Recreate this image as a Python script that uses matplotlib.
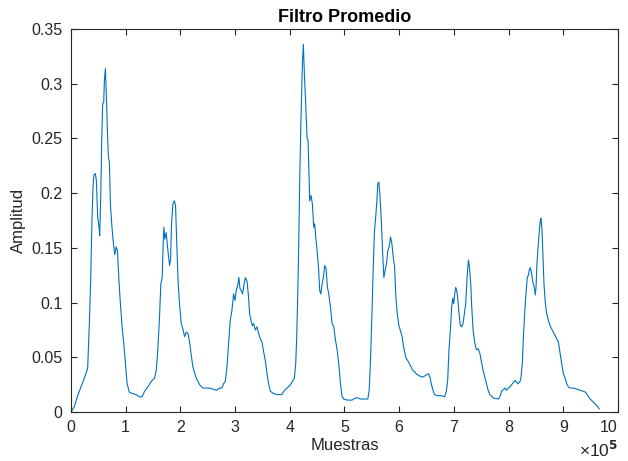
import matplotlib.pyplot as plt
from matplotlib.ticker import FuncFormatter

# muestras en unidades de 1e5, amplitud
muestras = [
    0.000, 0.061, 0.122, 0.183, 0.244, 0.305, 0.336, 0.360, 0.385, 0.403,
    0.421, 0.446, 0.464, 0.489, 0.513, 0.525, 0.544, 0.562, 0.580, 0.599,
    0.611, 0.629, 0.648, 0.666, 0.684, 0.703, 0.721, 0.745, 0.770, 0.800,
    0.825, 0.849, 0.874, 0.904, 0.935, 0.965, 0.996, 1.026, 1.069, 1.130,
    1.191, 1.252, 1.301, 1.344, 1.405, 1.466, 1.527, 1.558, 1.588, 1.619,
    1.643, 1.668, 1.686, 1.698, 1.717, 1.741, 1.772, 1.802, 1.820, 1.839,
    1.863, 1.888, 1.912, 1.936, 1.961, 1.985, 2.016, 2.046, 2.077, 2.108,
    2.138, 2.169, 2.199, 2.230, 2.291, 2.352, 2.413, 2.474, 2.535, 2.596,
    2.657, 2.718, 2.759, 2.790, 2.821, 2.851, 2.882, 2.912, 2.943, 2.973,
    2.998, 3.022, 3.053, 3.071, 3.089, 3.114, 3.138, 3.162, 3.187, 3.217,
    3.242, 3.266, 3.291, 3.315, 3.339, 3.370, 3.400, 3.431, 3.461, 3.492,
    3.523, 3.553, 3.584, 3.614, 3.645, 3.706, 3.767, 3.858, 3.889, 3.950,
    4.011, 4.084, 4.109, 4.127, 4.145, 4.164, 4.182, 4.200, 4.219, 4.231,
    4.249, 4.267, 4.291, 4.316, 4.334, 4.352, 4.365, 4.389, 4.414, 4.438,
    4.456, 4.475, 4.499, 4.524, 4.548, 4.567, 4.591, 4.615, 4.640, 4.664,
    4.689, 4.713, 4.744, 4.774, 4.805, 4.835, 4.866, 4.896, 4.927, 4.957,
    4.988, 5.049, 5.140, 5.201, 5.244, 5.293, 5.366, 5.427, 5.452, 5.476,
    5.501, 5.525, 5.549, 5.574, 5.592, 5.610, 5.629, 5.647, 5.671, 5.696,
    5.720, 5.745, 5.769, 5.794, 5.818, 5.842, 5.867, 5.891, 5.916, 5.940,
    5.965, 5.995, 6.031, 6.055, 6.080, 6.104, 6.128, 6.159, 6.190, 6.220,
    6.251, 6.281, 6.312, 6.373, 6.434, 6.495, 6.538, 6.563, 6.587, 6.618,
    6.648, 6.709, 6.771, 6.832, 6.862, 6.887, 6.911, 6.936, 6.960, 6.979,
    6.997, 7.015, 7.034, 7.052, 7.070, 7.095, 7.119, 7.144, 7.168, 7.193,
    7.217, 7.242, 7.266, 7.284, 7.309, 7.327, 7.352, 7.382, 7.413, 7.443,
    7.474, 7.505, 7.535, 7.566, 7.596, 7.627, 7.657, 7.719, 7.810, 7.841,
    7.872, 7.933, 7.963, 7.994, 8.024, 8.055, 8.086, 8.116, 8.147, 8.177,
    8.208, 8.226, 8.251, 8.269, 8.294, 8.318, 8.343, 8.361, 8.379, 8.398,
    8.416, 8.434, 8.453, 8.471, 8.489, 8.502, 8.520, 8.544, 8.563, 8.581,
    8.593, 8.612, 8.630, 8.648, 8.673, 8.697, 8.728, 8.758, 8.789, 8.820,
    8.850, 8.881, 8.911, 8.942, 8.972, 9.003, 9.034, 9.064, 9.095, 9.125,
    9.187, 9.248, 9.309, 9.370, 9.413, 9.450, 9.492, 9.554, 9.615, 9.657,
]
amplitud = [
    0.000, 0.005, 0.015, 0.023, 0.031, 0.040, 0.081, 0.120, 0.178, 0.206,
    0.217, 0.218, 0.212, 0.178, 0.169, 0.161, 0.196, 0.248, 0.282, 0.283,
    0.303, 0.314, 0.288, 0.257, 0.233, 0.228, 0.190, 0.172, 0.157, 0.144,
    0.151, 0.148, 0.123, 0.099, 0.078, 0.063, 0.044, 0.026, 0.018, 0.017,
    0.016, 0.014, 0.014, 0.019, 0.023, 0.028, 0.031, 0.038, 0.057, 0.087,
    0.117, 0.123, 0.154, 0.169, 0.158, 0.164, 0.148, 0.134, 0.139, 0.172,
    0.190, 0.193, 0.189, 0.151, 0.117, 0.099, 0.081, 0.076, 0.069, 0.073,
    0.072, 0.064, 0.052, 0.041, 0.031, 0.025, 0.022, 0.022, 0.022, 0.021,
    0.020, 0.022, 0.022, 0.026, 0.028, 0.041, 0.063, 0.084, 0.093, 0.108,
    0.102, 0.111, 0.117, 0.123, 0.113, 0.111, 0.108, 0.116, 0.123, 0.120,
    0.108, 0.090, 0.084, 0.079, 0.081, 0.075, 0.078, 0.072, 0.067, 0.064,
    0.055, 0.047, 0.035, 0.026, 0.019, 0.017, 0.016, 0.016, 0.019, 0.022,
    0.025, 0.031, 0.044, 0.069, 0.105, 0.154, 0.212, 0.257, 0.294, 0.318,
    0.336, 0.309, 0.282, 0.251, 0.248, 0.215, 0.193, 0.198, 0.190, 0.169,
    0.172, 0.160, 0.148, 0.133, 0.111, 0.108, 0.117, 0.123, 0.134, 0.131,
    0.114, 0.108, 0.096, 0.081, 0.078, 0.066, 0.057, 0.044, 0.026, 0.014,
    0.012, 0.011, 0.011, 0.013, 0.013, 0.012, 0.012, 0.012, 0.020, 0.047,
    0.087, 0.130, 0.166, 0.180, 0.193, 0.209, 0.210, 0.199, 0.178, 0.148,
    0.123, 0.130, 0.136, 0.148, 0.151, 0.160, 0.154, 0.142, 0.133, 0.105,
    0.090, 0.079, 0.073, 0.069, 0.060, 0.054, 0.049, 0.047, 0.044, 0.041,
    0.038, 0.037, 0.035, 0.033, 0.032, 0.034, 0.035, 0.032, 0.026, 0.020,
    0.016, 0.015, 0.015, 0.014, 0.019, 0.029, 0.057, 0.075, 0.096, 0.104,
    0.099, 0.108, 0.114, 0.111, 0.105, 0.090, 0.079, 0.078, 0.081, 0.090,
    0.099, 0.123, 0.139, 0.133, 0.117, 0.096, 0.075, 0.063, 0.057, 0.058,
    0.054, 0.046, 0.038, 0.032, 0.026, 0.020, 0.016, 0.013, 0.012, 0.014,
    0.019, 0.022, 0.020, 0.022, 0.023, 0.025, 0.027, 0.029, 0.027, 0.026,
    0.028, 0.031, 0.044, 0.066, 0.090, 0.108, 0.123, 0.125, 0.130, 0.132,
    0.128, 0.122, 0.117, 0.114, 0.107, 0.114, 0.136, 0.154, 0.166, 0.175,
    0.177, 0.166, 0.142, 0.117, 0.099, 0.090, 0.084, 0.079, 0.076, 0.073,
    0.070, 0.067, 0.064, 0.054, 0.044, 0.035, 0.031, 0.026, 0.023, 0.022,
    0.022, 0.021, 0.020, 0.019, 0.018, 0.015, 0.012, 0.009, 0.006, 0.003,
]
xticks = [0, 1, 2, 3, 4, 5, 6, 7, 8, 9, 10]
yticks = [0, 0.05, 0.1, 0.15, 0.2, 0.25, 0.3, 0.35]

plt.rcParams['font.family'] = ['Liberation Sans', 'DejaVu Sans']
plt.rcParams['mathtext.fontset'] = 'custom'
plt.rcParams['mathtext.rm'] = 'Liberation Sans'
gris = '#262626'

fig = plt.figure(figsize=(6.28, 4.61), dpi=100)
ax = fig.add_axes([0.113, 0.106, 0.871, 0.831])

ax.plot([m * 1e5 for m in muestras], amplitud, color='#0072BD', linewidth=0.8)

ax.set_xlim(0, 10e5)
ax.set_ylim(0, 0.35)
ax.set_xticks([t * 1e5 for t in xticks])
ax.set_yticks(yticks)
ax.xaxis.set_major_formatter(FuncFormatter(lambda v, p: '%g' % (v / 1e5)))
ax.yaxis.set_major_formatter(FuncFormatter(lambda v, p: '%g' % v))

ax.tick_params(direction='in', length=4.3, width=0.8, colors=gris,
               labelsize=11.5, top=True, right=True, pad=6)
for s in ax.spines.values():
    s.set_color(gris)
    s.set_linewidth(0.8)

# MATLAB alinea la ultima etiqueta del eje x a la derecha
ax.get_xticklabels()[-1].set_horizontalalignment('right')

ax.set_title('Filtro Promedio', fontsize=13, fontweight='bold', color='black', pad=5)
ax.set_xlabel('Muestras', fontsize=12, color=gris, labelpad=2)
ax.set_ylabel('Amplitud', fontsize=12, color=gris, labelpad=4)
ax.text(1.0, -0.1175, r'$\times$10$^{\mathbf{5}}$', transform=ax.transAxes, ha='right',
        va='baseline', fontsize=12.5, color=gris)

fig.savefig('out.png', dpi=100)
